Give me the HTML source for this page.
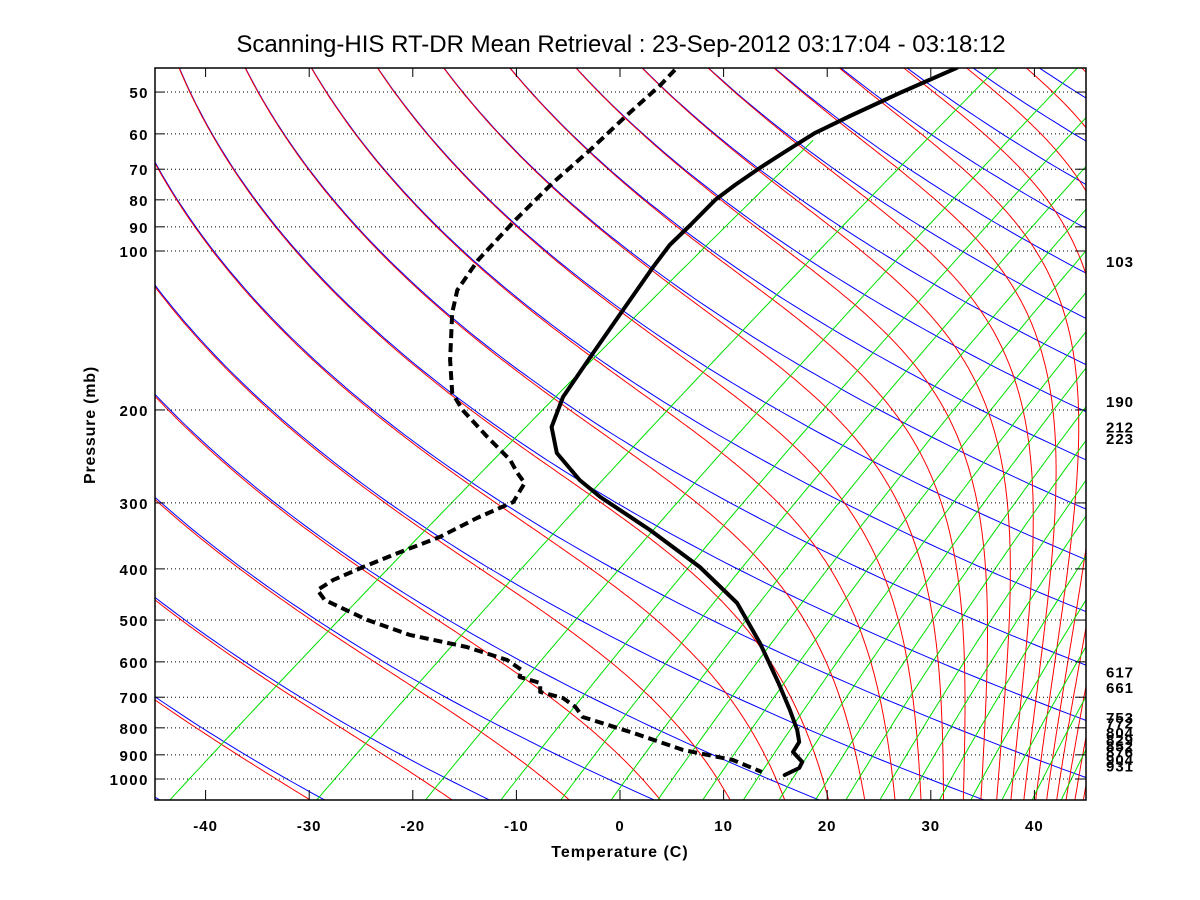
<!DOCTYPE html>
<html><head><meta charset="utf-8"><title>Skew-T</title>
<style>
html,body{margin:0;padding:0;background:#fff;}
svg{display:block;}
text{font-family:"Liberation Sans",Arial,sans-serif;}
</style></head>
<body>
<svg id="chart" width="1200" height="900" viewBox="0 0 1200 900" xmlns="http://www.w3.org/2000/svg">
<defs><clipPath id="plotclip"><rect x="155" y="68" width="931" height="732"/></clipPath></defs>
<rect x="0" y="0" width="1200" height="900" fill="#fff"/>
<text x="621" y="52" font-size="24" text-anchor="middle">Scanning-HIS RT-DR Mean Retrieval : 23-Sep-2012 03:17:04 - 03:18:12</text>
<g id="bg" clip-path="url(#plotclip)"></g>
<g id="grid"></g>
<g id="snd" clip-path="url(#plotclip)"></g>
<g id="axes"></g>
<text x="620" y="857" font-size="16" font-weight="bold" letter-spacing="1" text-anchor="middle">Temperature (C)</text>
<text transform="translate(95,425) rotate(-90)" font-size="16" font-weight="bold" letter-spacing="0.8" text-anchor="middle">Pressure (mb)</text>
</svg>
<script>
// ---- data ----
const tempP = [45.0,50.2,55.5,59.8,64.9,69.6,75.0,80.0,89.3,97.4,107.2,129.3,156.0,189.0,215.4,241.3,271.5,292.3,337.6,396.8,464.2,552.7,658.0,740.0,807.6,851.0,889.0,928.6,953.2,982.7];
const tempT = [32.5,27.0,22.2,18.8,15.9,13.5,11.1,9.2,6.8,4.8,3.2,0.3,-2.6,-5.5,-6.6,-6.1,-3.9,-1.9,2.9,7.7,11.3,13.5,15.3,16.4,17.1,17.3,16.7,17.6,17.3,15.9];
const dewP = [45.4,48.5,55.7,64.4,74.3,87.3,104.0,118.6,131.0,160.8,185.7,200.0,225.0,248.8,263.3,275.0,298.8,320.4,348.0,371.6,396.8,420.0,438.5,458.1,499.7,533.5,562.3,595.1,621.6,640.8,658.0,684.3,702.4,730.5,763.2,818.3,881.3,920.5,969.9];
const dewT = [5.3,3.9,0.5,-2.9,-6.5,-10.1,-13.7,-15.7,-16.2,-16.4,-16.2,-15.2,-12.8,-10.6,-9.9,-9.2,-10.3,-13.8,-17.4,-21.2,-24.8,-27.7,-29.2,-28.5,-24.4,-20.3,-14.8,-10.9,-9.5,-9.7,-7.7,-7.7,-5.5,-4.3,-3.6,1.3,6.1,10.9,13.7];
const pressureTicks = [50,60,70,80,90,100,200,300,400,500,600,700,800,900,1000];
const tempTicks = [-40,-30,-20,-10,0,10,20,30,40];
const levelLabels = [103,190,212,223,617,661,753,772,804,829,852,876,904,931];
const thetaValues = [210,225.5,241,256.5,272,287.5,303,318.5,334,349.5,365,380.5,396,411.5,427,442.5,458,473.5,489,504.5,520,535.5,551,566.5,582];
const mixRatios = [0.1,0.4,1,1.8,2.8,4,5.5,7.4,9.6,12,15,18,22,26,31,37,44,52,61,72];

// ---- axes ----
const K = 30;
function X(t){ return 620 + 10.36*t; }
function Y(p){ return 779 + 528*Math.log10(p/1000); }
function skew(Tc,p){ return Tc + K*Math.log(1000/p); }
const NS='http://www.w3.org/2000/svg';
function mk(tag, attrs, parent){ const e=document.createElementNS(NS,tag); for(const k in attrs) e.setAttribute(k,attrs[k]); parent.appendChild(e); return e; }
const bg=document.getElementById('bg'), grid=document.getElementById('grid'), snd=document.getElementById('snd'), axes=document.getElementById('axes');
function es(Tc){ return 6.112*Math.exp(17.67*Tc/(Tc+243.5)); }

thetaValues.forEach(function(th){
  let d='';
  for(let lp=Math.log(1100); lp>=Math.log(40); lp-=0.02){
    const p=Math.exp(lp); const Tc=th*Math.pow(p/1000,0.286)-273.15;
    d += (d?'L':'M')+X(skew(Tc,p)).toFixed(1)+','+Y(p).toFixed(1);
  }
  const e=mk('path',{d:d,fill:'none',stroke:'#0000ff','stroke-width':1},bg);
  
  
});
thetaValues.forEach(function(th){
  const Rd=287,cp=1004,Lv=2.5e6,eps=0.622;
  let p=30, T=th*Math.pow(p/1000,0.286);
  let pts=[];
  const step=0.01;
  while(p<1100){
    pts.push([p,T]);
    const e1=es(T-273.15); if(e1>0.4*p) break;
    const rs=eps*e1/(p-e1);
    const dT=(Rd*T+Lv*rs)/(cp+Lv*Lv*rs*eps/(Rd*T*T));
    T += dT*step; p = p*Math.exp(step);
  }
  let d='';
  pts.forEach(function(q){ d += (d?'L':'M')+X(skew(q[1]-273.15,q[0])).toFixed(1)+','+Y(q[0]).toFixed(1); });
  const e=mk('path',{d:d,fill:'none',stroke:'#ff0000','stroke-width':1},bg);
  
  
});
mixRatios.forEach(function(w){
  const wk=w/1000; let d='';
  for(let lp=Math.log(1100); lp>=Math.log(44); lp-=0.02){
    const p=Math.exp(lp); const e=wk*p/(0.622+wk); const L=Math.log(e/6.112);
    const Td=243.5*L/(17.67-L); if(Td<-65) break;
    d += (d?'L':'M')+X(skew(Td,p)).toFixed(1)+','+Y(p).toFixed(1);
  }
  const e=mk('path',{d:d,fill:'none',stroke:'#00e000','stroke-width':1},bg);
  
  
});

pressureTicks.forEach(function(p){
  const y=Y(p);
  const g=mk('line',{x1:167,x2:1086,y1:y,y2:y,stroke:'#000','stroke-width':1,'stroke-dasharray':'1,3'},grid);
  
  
  const t1=mk('line',{x1:155,x2:165,y1:y,y2:y,stroke:'#000','stroke-width':1},axes);
  
  
  const t2=mk('line',{x1:1076,x2:1086,y1:y,y2:y,stroke:'#000','stroke-width':1},axes);
  
  
  const l=mk('text',{x:149,y:y+6,'font-size':15,'font-weight':'bold','letter-spacing':'1.5','text-anchor':'end'},axes);
  l.textContent=p;
  
  
});
tempTicks.forEach(function(t){
  const x=X(t);
  const a=mk('line',{x1:x,x2:x,y1:790,y2:800,stroke:'#000','stroke-width':1},axes);
  
  
  const b=mk('line',{x1:x,x2:x,y1:68,y2:77,stroke:'#000','stroke-width':1},axes);
  
  
  const l=mk('text',{x:x,y:831,'font-size':15,'font-weight':'bold','letter-spacing':'1','text-anchor':'middle'},axes);
  l.textContent=t;
  
  
});
levelLabels.forEach(function(p){
  const l=mk('text',{x:1106,y:Y(p)+9,'font-size':15,'font-weight':'bold','letter-spacing':'1'},axes);
  l.textContent=p;
  
  
});
const fr=mk('rect',{x:155,y:68,width:931,height:732,fill:'none',stroke:'#000','stroke-width':1.5},axes);



function line(P,T){ return P.map(function(p,i){ return (i?'L':'M')+X(T[i]).toFixed(1)+','+Y(p).toFixed(1); }).join(''); }
const dl=mk('path',{d:line(dewP,dewT),fill:'none',stroke:'#000','stroke-width':4,'stroke-dasharray':'9,5','stroke-linejoin':'round'},snd);


const tl=mk('path',{d:line(tempP,tempT),fill:'none',stroke:'#000','stroke-width':4,'stroke-linejoin':'round','stroke-linecap':'round'},snd);


</script>
</body></html>
